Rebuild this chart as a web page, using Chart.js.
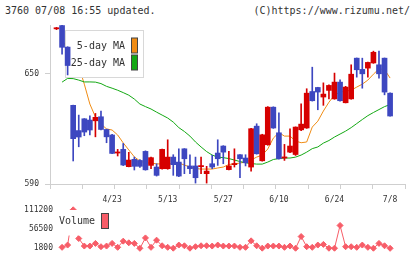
<!DOCTYPE html>
<html>
<head>
<meta charset="utf-8">
<script src="https://cdn.jsdelivr.net/npm/chart.js@4.4.1/dist/chart.umd.min.js"></script>
<style>
  body { margin: 0; background: #fff; width: 420px; height: 259px; overflow: hidden; position: relative; }
  .hd { position: absolute; top: 5px; font: 10px/12px "DejaVu Sans Mono", monospace; color: #333; white-space: pre; }
  #price { position: absolute; left: 0; top: 0; }
  #vol { position: absolute; left: 0; top: 200px; }
</style>
</head>
<body>
<div class="hd" style="left:5px">3760 07/08 16:55 updated.</div>
<div class="hd" style="right:10px">(C)https://www.rizumu.net/</div>
<canvas id="price" width="420" height="205"></canvas>
<canvas id="vol" width="420" height="59"></canvas>
<script>
// daily candles, oldest first (index 0 .. 60)
const opens  = [674.2, 676.0, 664.3, 632.7, 619.0, 625.4, 624.7, 624.3, 626.5, 619.6,
                616.6, 606.8, 608.8, 599.4, 603.4, 602.8, 607.7, 600.1, 599.2, 598.3,
                598.3, 604.6, 601.9, 609.1, 599.8, 599.8, 599.4, 595.6, 601.0, 606.8,
                610.6, 597.8, 600.5, 605.9, 604.1, 599.2, 621.4, 602.6, 611.3, 631.7,
                617.8, 604.1, 607.3, 606.0, 619.4, 620.4, 640.2, 642.4, 637.2, 640.8,
                636.2, 645.3, 634.1, 636.2, 658.3, 652.2, 652.9, 655.7, 654.7, 658.3, 639.3];
const closes = [674.8, 664.2, 654.3, 614.6, 615.5, 618.2, 619.3, 626.2, 619.6, 615.6,
                606.6, 607.4, 600.3, 603.0, 599.6, 599.6, 597.7, 604.3, 594.7, 608.8,
                604.6, 600.5, 594.3, 603.7, 598.3, 593.4, 600.0, 597.0, 599.2, 603.7,
                607.3, 599.8, 601.1, 603.7, 601.5, 620.0, 606.4, 616.7, 631.7, 620.4,
                603.7, 604.7, 610.6, 620.9, 622.5, 639.3, 635.2, 639.9, 638.8, 643.5,
                645.3, 635.2, 642.6, 649.6, 652.0, 649.8, 656.0, 661.5, 649.8, 639.9, 626.9];
const highs  = [675.0, 676.3, 664.5, 632.8, 627.4, 625.5, 627.0, 628.3, 629.6, 619.8,
                617.0, 608.8, 612.0, 607.2, 604.6, 603.2, 608.0, 604.6, 601.0, 609.0,
                614.0, 605.9, 609.1, 609.2, 605.9, 604.6, 604.6, 599.6, 605.6, 614.0,
                610.8, 607.7, 609.1, 606.0, 605.9, 620.2, 622.7, 617.0, 632.0, 631.9,
                628.6, 611.5, 620.0, 621.0, 633.5, 641.7, 653.4, 642.5, 644.9, 643.8,
                650.2, 646.5, 643.0, 654.7, 658.4, 658.3, 656.2, 662.1, 662.1, 658.4, 639.5];
const lows   = [673.8, 660.4, 649.2, 602.5, 610.2, 616.2, 616.6, 615.6, 619.3, 612.4,
                606.4, 605.2, 600.0, 599.3, 597.6, 599.0, 597.5, 598.3, 594.3, 598.0,
                598.0, 594.7, 594.0, 595.6, 595.6, 590.5, 595.6, 590.5, 598.3, 600.1,
                601.0, 597.7, 599.2, 593.4, 599.8, 597.0, 606.2, 602.4, 611.0, 620.2,
                603.5, 602.8, 607.0, 605.5, 619.0, 620.2, 635.0, 630.3, 632.7, 636.2,
                636.0, 635.0, 634.0, 636.0, 648.0, 642.0, 648.0, 655.5, 647.5, 638.4, 626.8];

// moving averages as drawn on the chart
const ma5  = [null, 668.0, 663.7, 658.8, 654.0, 644.2, 633.4, 626.4, 622.6, 619.9,
              619.3, 616.6, 612.3, 608.5, 604.7, 602.5, 601.4, 601.4, 600.9, 600.9,
              601.1, 600.9, 601.4, 600.3, 599.2, 598.4, 598.1, 598.1, 598.1, 598.7,
              599.2, 600.6, 600.9, 601.4, 601.9, 603.0, 604.6, 605.7, 609.0, 614.9,
              617.9, 616.0, 616.0, 613.3, 612.4, 612.8, 620.9, 624.1, 629.6, 634.4,
              638.2, 639.9, 640.4, 640.9, 642.6, 644.2, 646.4, 649.6, 652.5, 652.1, 647.5];
const ma25 = [null, 645.3, 647.3, 647.2, 646.4, 645.4, 645.4, 645.3, 644.5, 643.0,
              642.0, 640.9, 639.6, 638.2, 636.1, 633.4, 632.0, 630.7, 629.0, 627.4,
              625.8, 623.6, 620.6, 618.5, 616.0, 612.8, 610.1, 607.6, 605.7, 604.6,
              604.3, 603.8, 603.0, 602.2, 601.5, 601.1, 600.8, 600.8, 601.9, 603.3,
              603.8, 604.1, 604.1, 604.6, 605.7, 607.3, 609.2, 610.1, 612.2, 613.6,
              615.5, 617.1, 618.7, 620.6, 622.8, 625.0, 627.1, 628.8, 630.4, 632.0, 633.1];

const volumes = [null, 4600, 11000, 111200, 29600, 8200, 8200, 15700, 6300, 8200,
                 15700, 4600, 22100, 17400, 15700, 1800, 31300, 4600, 24900, 9000,
                 4600, 2100, 11000, 9000, 2000, 6300, 9000, 9000, 8200, 11000,
                 8200, 8200, 8200, 4600, 4600, 23000, 9000, 2200, 8200, 8200,
                 8200, 4600, 8200, 2000, 35200, 6300, 4600, 11000, 12900, 2000,
                 2000, 66700, 6300, 6300, 4600, 11000, 4600, 2000, 15700, 9000, 1800];

const dateIdx   = [10, 20, 30, 40, 50, 60];
const dateTicks = ['4/23', '5/13', '5/27', '6/10', '6/24', '7/8'];
const priceTicks = [590, 650];
const volTicks = [1800, 56500, 111200];

const MONO = '"DejaVu Sans Mono", monospace';
const UP = '#d60000', DOWN = '#3d47c0';
const C5 = '#f08c14', C25 = '#13a813', CVOL = '#f75d68';
const XMIN = -1.17, XMAX = 62.68;
// volume panel has a wider label column; shift its x range so candles and points line up
const VOL_AXIS_W = 58;
const XMIN_VOL = XMIN + (VOL_AXIS_W - 50) * (XMAX - XMIN) / 355;

Chart.defaults.font.family = MONO;
Chart.defaults.color = '#333';

const candleColor = (ctx) => closes[ctx.dataIndex] >= opens[ctx.dataIndex] ? UP : DOWN;

// legend box of the price panel: above the MA lines, below the candles
function drawPriceLegend(chart) {
  const ctx = chart.ctx;
  const ds = chart.data.datasets;
  ctx.save();
  ctx.fillStyle = '#fff';
  ctx.fillRect(65.5, 30.5, 78, 47);
  ctx.strokeStyle = '#d8d8d8';
  ctx.lineWidth = 1;
  ctx.strokeRect(65.5, 30.5, 78, 47);
  ctx.font = '10px ' + MONO;
  ctx.textAlign = 'right';
  ctx.textBaseline = 'middle';
  [0, 1].forEach((k) => {
    const y = 46 + k * 17;
    ctx.fillStyle = '#333';
    ctx.fillText(ds[k].label, 125, y);
    ctx.fillStyle = ds[k].borderColor;
    ctx.fillRect(131.5, y - 8, 6, 15);
    ctx.strokeStyle = '#444';
    ctx.strokeRect(131.5, y - 8, 6, 15);
  });
  ctx.restore();
}

const priceLegend = {
  id: 'priceLegend',
  beforeDatasetDraw(chart, args) {
    // lines are drawn first, then the legend, then wicks and bodies
    if (args.index === 2) drawPriceLegend(chart);
  }
};

new Chart(document.getElementById('price'), {
  type: 'bar',
  data: {
    datasets: [
      {
        type: 'line', label: '5-day MA', order: 4,
        data: ma5.map((v, i) => ({ x: i, y: v })),
        borderColor: C5, backgroundColor: C5, borderWidth: 1,
        pointRadius: 0, tension: 0
      },
      {
        type: 'line', label: '25-day MA', order: 3,
        data: ma25.map((v, i) => ({ x: i, y: v })),
        borderColor: C25, backgroundColor: C25, borderWidth: 1,
        pointRadius: 0, tension: 0
      },
      {
        label: 'range', order: 2, grouped: false,
        data: lows.map((v, i) => ({ x: i, y: [v, highs[i]] })),
        backgroundColor: candleColor, barThickness: 1
      },
      {
        label: 'body', order: 1, grouped: false,
        data: opens.map((v, i) => ({ x: i, y: [v, closes[i]] })),
        backgroundColor: candleColor, barThickness: 5, minBarLength: 1
      }
    ]
  },
  options: {
    responsive: false,
    animation: false,
    events: [],
    layout: { padding: { left: 0, right: 15, top: 25, bottom: 0 } },
    plugins: { legend: { display: false }, tooltip: { enabled: false } },
    scales: {
      x: {
        type: 'linear', position: 'bottom', weight: 1, offset: false,
        min: XMIN, max: XMAX,
        afterBuildTicks: (s) => { s.ticks = dateIdx.map((v) => ({ value: v })); },
        afterFit: (s) => { s.height = 16; },
        grid: { display: false, drawTicks: false, tickLength: 0 },
        border: { display: false },
        ticks: {
          autoSkip: false, maxRotation: 0, padding: 6,
          font: { size: 8 }, color: '#333',
          callback: (v) => dateTicks[dateIdx.indexOf(v)]
        }
      },
      x2: {
        type: 'linear', position: 'bottom', weight: 0, offset: false,
        min: XMIN, max: XMAX,
        afterBuildTicks: (s) => {
          s.ticks = Array.from({ length: 12 }, (_, k) => ({ value: XMIN + k * (XMAX - XMIN) / 11 }));
        },
        afterFit: (s) => { s.height = 5; },
        grid: { drawOnChartArea: false, tickLength: 5, color: '#cfcfcf', offset: false },
        border: { color: '#cfcfcf' },
        ticks: { display: false }
      },
      y: {
        min: 590, max: 676.3,
        afterBuildTicks: (s) => { s.ticks = priceTicks.map((v) => ({ value: v })); },
        afterFit: (s) => { s.width = 50; },
        grid: { drawOnChartArea: false, tickLength: 5, color: '#cfcfcf' },
        border: { color: '#cfcfcf' },
        ticks: { padding: 6, font: { size: 8 }, color: '#333' }
      }
    }
  },
  plugins: [priceLegend]
});

// legend of the volume panel, drawn over the line
const volLegend = {
  id: 'volLegend',
  afterDatasetsDraw(chart) {
    const ctx = chart.ctx;
    ctx.save();
    ctx.fillStyle = '#fff';
    ctx.fillRect(59, 10, 53, 25.5);
    ctx.font = '10px ' + MONO;
    ctx.fillStyle = '#333';
    ctx.textAlign = 'right';
    ctx.textBaseline = 'middle';
    ctx.fillText(chart.data.datasets[0].label, 95, 21.7);
    ctx.fillStyle = CVOL;
    ctx.fillRect(101.5, 13.5, 7, 15);
    ctx.strokeStyle = '#444';
    ctx.lineWidth = 1;
    ctx.strokeRect(101.5, 13.5, 7, 15);
    ctx.restore();
  }
};

new Chart(document.getElementById('vol'), {
  type: 'line',
  data: {
    datasets: [{
      label: 'Volume',
      data: volumes.map((v, i) => ({ x: i, y: v })),
      borderColor: CVOL, backgroundColor: CVOL, borderWidth: 1,
      pointStyle: 'rectRot', pointRadius: 3, pointBorderWidth: 1,
      pointBackgroundColor: CVOL, pointBorderColor: CVOL,
      tension: 0, clip: false
    }]
  },
  options: {
    responsive: false,
    animation: false,
    events: [],
    layout: { padding: { left: 0, right: 15, top: 9, bottom: 10.7 } },
    plugins: { legend: { display: false }, tooltip: { enabled: false } },
    scales: {
      x: { type: 'linear', min: XMIN_VOL, max: XMAX, display: false },
      y: {
        min: 1800, max: 111200,
        afterBuildTicks: (s) => { s.ticks = volTicks.map((v) => ({ value: v })); },
        afterFit: (s) => { s.width = VOL_AXIS_W; },
        grid: { display: false, drawTicks: false },
        border: { display: false },
        ticks: { padding: 5, font: { size: 8 }, color: '#333', callback: (v) => String(v) }
      }
    }
  },
  plugins: [volLegend]
});
</script>
</body>
</html>
